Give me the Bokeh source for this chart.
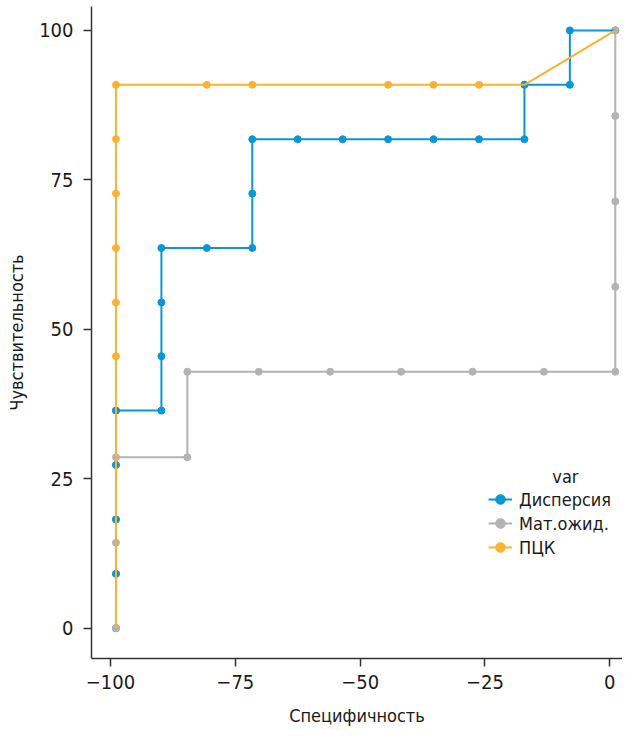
from bokeh.plotting import figure
from bokeh.models import Range1d, Legend, LegendItem, Label, FixedTicker
from bokeh.embed import file_html
from bokeh.resources import INLINE

# ---- data ----
disp_x = [-98.9, -98.9, -98.9, -98.9, -98.9, -89.8, -89.8, -89.8, -89.8, -80.7,
          -71.6, -71.6, -71.6, -62.5, -53.5, -44.4, -35.3, -26.2, -17.1, -17.1,
          -8.0, -8.0, 1.1]
disp_y = [0, 9.1, 18.2, 27.3, 36.4, 36.4, 45.5, 54.5, 63.6, 63.6,
          63.6, 72.7, 81.8, 81.8, 81.8, 81.8, 81.8, 81.8, 81.8, 90.9,
          90.9, 100, 100]

mat_x = [-98.9, -98.9, -98.9, -84.6, -84.6, -70.3, -56.0, -41.8, -27.5, -13.2,
         1.1, 1.1, 1.1, 1.1, 1.1]
mat_y = [0, 14.3, 28.6, 28.6, 42.9, 42.9, 42.9, 42.9, 42.9, 42.9,
         42.9, 57.1, 71.4, 85.7, 100]

pck_x = [-98.9, -98.9, -98.9, -98.9, -98.9, -98.9, -98.9, -98.9, -98.9, -98.9,
         -98.9, -80.7, -71.6, -44.4, -35.3, -26.2, -17.1, 1.1]
pck_y = [0, 9.1, 18.2, 27.3, 36.4, 45.5, 54.5, 63.6, 72.7, 81.8,
         90.9, 90.9, 90.9, 90.9, 90.9, 90.9, 90.9, 100]

series_names = ["Дисперсия", "Мат.ожид.", "ПЦК"]
x_ticks = [-100, -75, -50, -25, 0]
y_ticks = [0, 25, 50, 75, 100]

BLUE = "#0996d7"
GREY = "#b3b3b3"
ORANGE = "#fbb233"
FONT = "'DejaVu Sans Condensed', 'Liberation Sans Narrow', Roboto"
TXT = "#1a1a1a"
AX = "#333333"

p = figure(width=622, height=728, output_backend="svg", toolbar_location=None,
           x_range=Range1d(-103.8, 2.54), y_range=Range1d(-5.07, 104.0),
           min_border_left=91, min_border_right=0, min_border_top=6,
           min_border_bottom=68)
p.outline_line_color = None
p.xgrid.visible = False
p.ygrid.visible = False
p.background_fill_color = "white"
p.border_fill_color = "white"

# points first, then lines on top
s_pck = p.scatter(pck_x, pck_y, size=7, color=ORANGE)
s_disp = p.scatter(disp_x, disp_y, size=7, color=BLUE)
s_mat = p.scatter(mat_x, mat_y, size=7, color=GREY)
l_disp = p.line(disp_x, disp_y, line_width=2, color=BLUE)
l_mat = p.line(mat_x, mat_y, line_width=2, color=GREY)
l_pck = p.line(pck_x, pck_y, line_width=2, color=ORANGE)

for ax in (p.xaxis[0], p.yaxis[0]):
    ax.axis_line_color = AX
    ax.axis_line_width = 1.5
    ax.major_tick_line_color = AX
    ax.major_tick_line_width = 1.5
    ax.major_tick_out = 8
    ax.major_tick_in = 0
    ax.minor_tick_line_color = None
    ax.major_label_text_font = FONT
    ax.major_label_text_font_size = "20px"
    ax.major_label_text_color = TXT
    ax.axis_label_text_font = FONT
    ax.axis_label_text_font_size = "18px"
    ax.axis_label_text_font_style = "normal"
    ax.axis_label_text_color = TXT

p.xaxis[0].ticker = FixedTicker(ticks=x_ticks)
p.yaxis[0].ticker = FixedTicker(ticks=y_ticks)
p.xaxis[0].major_label_overrides = {t: ("\u2212" + str(-t) if t < 0 else str(t)) for t in x_ticks}
p.xaxis[0].axis_label = "Специфичность"
p.yaxis[0].axis_label = "Чувствительность"
p.xaxis[0].major_label_standoff = 8
p.yaxis[0].major_label_standoff = 10
p.xaxis[0].axis_label_standoff = 13
p.yaxis[0].axis_label_standoff = 9

legend = Legend(items=[
    LegendItem(label=series_names[0], renderers=[l_disp, s_disp]),
    LegendItem(label=series_names[1], renderers=[l_mat, s_mat]),
    LegendItem(label=series_names[2], renderers=[l_pck, s_pck]),
], location=(397, 99))
legend.label_text_font = FONT
legend.label_text_font_size = "18px"
legend.label_text_color = TXT
legend.glyph_width = 24
legend.glyph_height = 24
legend.label_height = 24
legend.label_standoff = 7
legend.spacing = 0
legend.padding = 0
legend.margin = 0
legend.border_line_color = None
legend.background_fill_alpha = 0
p.add_layout(legend)

p.add_layout(Label(x=-8.9, y=25.3, text="var", text_font=FONT, text_font_size="18px",
                   text_color=TXT, text_align="center", text_baseline="middle"))

open("out.html", "w").write(file_html(p, INLINE))
